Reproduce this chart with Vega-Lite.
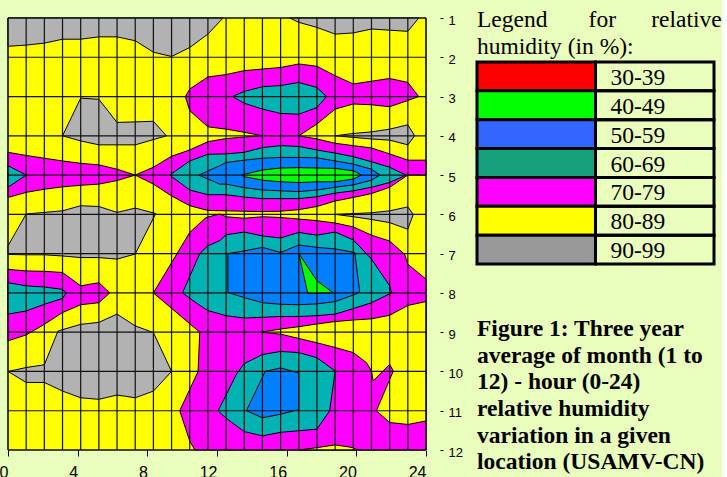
{
"$schema": "https://vega.github.io/schema/vega-lite/v6.json",
"background": "#E9FDBC",
"padding": {"left": -1, "top": 7, "right": 0, "bottom": -3},
"bounds": "flush",
"spacing": 51,
"config": {"view": {"stroke": null}, "font": "Liberation Sans"},
"resolve": {"scale": {"x": "independent", "y": "independent", "fill": "independent"}},
"datasets": {
"polys": [
{"p":"p00","z":"80-89","c":0,"m":1},{"p":"p00","z":"80-89","c":23,"m":1},{"p":"p00","z":"80-89","c":23,"m":12},{"p":"p00","z":"80-89","c":0,"m":12},
{"p":"p01","z":"90-99","c":0,"m":1},{"p":"p01","z":"90-99","c":11.83,"m":1},{"p":"p01","z":"90-99","c":11,"m":1.41},{"p":"p01","z":"90-99","c":10,"m":1.75},{"p":"p01","z":"90-99","c":9,"m":1.98},{"p":"p01","z":"90-99","c":8,"m":1.87},{"p":"p01","z":"90-99","c":7,"m":1.58},{"p":"p01","z":"90-99","c":6,"m":1.48},{"p":"p01","z":"90-99","c":5,"m":1.48},{"p":"p01","z":"90-99","c":4,"m":1.54},{"p":"p01","z":"90-99","c":3,"m":1.54},{"p":"p01","z":"90-99","c":2,"m":1.64},{"p":"p01","z":"90-99","c":1,"m":1.69},{"p":"p01","z":"90-99","c":0,"m":1.72},
{"p":"p02","z":"90-99","c":15.5,"m":1},{"p":"p02","z":"90-99","c":22.6,"m":1},{"p":"p02","z":"90-99","c":22,"m":1.34},{"p":"p02","z":"90-99","c":21,"m":1.31},{"p":"p02","z":"90-99","c":20,"m":1.28},{"p":"p02","z":"90-99","c":19,"m":1.38},{"p":"p02","z":"90-99","c":18,"m":1.41},{"p":"p02","z":"90-99","c":17,"m":1.24},{"p":"p02","z":"90-99","c":16,"m":1.11},
{"p":"p03","z":"90-99","c":4,"m":3.04},{"p":"p03","z":"90-99","c":5,"m":3.07},{"p":"p03","z":"90-99","c":6,"m":3.66},{"p":"p03","z":"90-99","c":8,"m":3.63},{"p":"p03","z":"90-99","c":8.72,"m":4},{"p":"p03","z":"90-99","c":7,"m":4.23},{"p":"p03","z":"90-99","c":6,"m":4.23},{"p":"p03","z":"90-99","c":5,"m":4.23},{"p":"p03","z":"90-99","c":4,"m":4.13},{"p":"p03","z":"90-99","c":3,"m":4},
{"p":"p04","z":"90-99","c":18,"m":4},{"p":"p04","z":"90-99","c":19,"m":3.94},{"p":"p04","z":"90-99","c":20,"m":3.9},{"p":"p04","z":"90-99","c":21,"m":3.83},{"p":"p04","z":"90-99","c":22,"m":3.72},{"p":"p04","z":"90-99","c":22.38,"m":4},{"p":"p04","z":"90-99","c":22,"m":4.23},{"p":"p04","z":"90-99","c":21,"m":4.11},{"p":"p04","z":"90-99","c":20,"m":4.08},{"p":"p04","z":"90-99","c":19,"m":4.04},
{"p":"p05","z":"90-99","c":0,"m":6.8},{"p":"p05","z":"90-99","c":1,"m":5.99},{"p":"p05","z":"90-99","c":2,"m":5.95},{"p":"p05","z":"90-99","c":3,"m":5.91},{"p":"p05","z":"90-99","c":4,"m":5.78},{"p":"p05","z":"90-99","c":5,"m":5.8},{"p":"p05","z":"90-99","c":6,"m":5.95},{"p":"p05","z":"90-99","c":7,"m":5.84},{"p":"p05","z":"90-99","c":8.13,"m":5.98},{"p":"p05","z":"90-99","c":7,"m":7.01},{"p":"p05","z":"90-99","c":6,"m":7.14},{"p":"p05","z":"90-99","c":5,"m":7.1},{"p":"p05","z":"90-99","c":4,"m":7.1},{"p":"p05","z":"90-99","c":3,"m":7.06},{"p":"p05","z":"90-99","c":2,"m":7.03},{"p":"p05","z":"90-99","c":1,"m":7.03},{"p":"p05","z":"90-99","c":0,"m":7.02},
{"p":"p06","z":"90-99","c":18,"m":6},{"p":"p06","z":"90-99","c":19,"m":5.98},{"p":"p06","z":"90-99","c":20,"m":5.96},{"p":"p06","z":"90-99","c":21,"m":5.91},{"p":"p06","z":"90-99","c":22,"m":5.81},{"p":"p06","z":"90-99","c":22.3,"m":6},{"p":"p06","z":"90-99","c":22,"m":6.38},{"p":"p06","z":"90-99","c":21,"m":6.21},{"p":"p06","z":"90-99","c":20,"m":6.13},{"p":"p06","z":"90-99","c":19,"m":6.06},
{"p":"p07","z":"90-99","c":0,"m":10},{"p":"p07","z":"90-99","c":1,"m":9.9},{"p":"p07","z":"90-99","c":2,"m":9.83},{"p":"p07","z":"90-99","c":2.75,"m":8.97},{"p":"p07","z":"90-99","c":4,"m":8.8},{"p":"p07","z":"90-99","c":5,"m":8.75},{"p":"p07","z":"90-99","c":6,"m":8.54},{"p":"p07","z":"90-99","c":7,"m":8.84},{"p":"p07","z":"90-99","c":8,"m":9.01},{"p":"p07","z":"90-99","c":9,"m":10},{"p":"p07","z":"90-99","c":8,"m":10.5},{"p":"p07","z":"90-99","c":7,"m":10.67},{"p":"p07","z":"90-99","c":6,"m":10.6},{"p":"p07","z":"90-99","c":5,"m":10.71},{"p":"p07","z":"90-99","c":4,"m":10.67},{"p":"p07","z":"90-99","c":3,"m":10.5},{"p":"p07","z":"90-99","c":2,"m":10.28},{"p":"p07","z":"90-99","c":1,"m":10.28},
{"p":"p08","z":"70-79","c":9.76,"m":3},{"p":"p08","z":"70-79","c":10,"m":2.81},{"p":"p08","z":"70-79","c":11,"m":2.5},{"p":"p08","z":"70-79","c":12,"m":2.44},{"p":"p08","z":"70-79","c":13,"m":2.34},{"p":"p08","z":"70-79","c":14,"m":2.3},{"p":"p08","z":"70-79","c":15,"m":2.26},{"p":"p08","z":"70-79","c":16,"m":2.17},{"p":"p08","z":"70-79","c":17,"m":2.23},{"p":"p08","z":"70-79","c":18,"m":2.47},{"p":"p08","z":"70-79","c":19,"m":2.68},{"p":"p08","z":"70-79","c":20,"m":2.61},{"p":"p08","z":"70-79","c":21,"m":2.54},{"p":"p08","z":"70-79","c":22,"m":2.64},{"p":"p08","z":"70-79","c":22.6,"m":3},{"p":"p08","z":"70-79","c":22,"m":3.1},{"p":"p08","z":"70-79","c":21,"m":3.26},{"p":"p08","z":"70-79","c":20,"m":3.21},{"p":"p08","z":"70-79","c":19,"m":3.19},{"p":"p08","z":"70-79","c":18,"m":3.32},{"p":"p08","z":"70-79","c":17,"m":3.7},{"p":"p08","z":"70-79","c":16,"m":4},{"p":"p08","z":"70-79","c":17,"m":4.08},{"p":"p08","z":"70-79","c":18,"m":4.19},{"p":"p08","z":"70-79","c":19,"m":4.25},{"p":"p08","z":"70-79","c":20,"m":4.31},{"p":"p08","z":"70-79","c":21,"m":4.46},{"p":"p08","z":"70-79","c":22,"m":4.62},{"p":"p08","z":"70-79","c":23,"m":4.62},{"p":"p08","z":"70-79","c":23,"m":5},{"p":"p08","z":"70-79","c":22,"m":5},{"p":"p08","z":"70-79","c":21,"m":5.31},{"p":"p08","z":"70-79","c":20,"m":5.47},{"p":"p08","z":"70-79","c":19,"m":5.57},{"p":"p08","z":"70-79","c":18,"m":5.66},{"p":"p08","z":"70-79","c":17,"m":5.8},{"p":"p08","z":"70-79","c":16,"m":5.88},{"p":"p08","z":"70-79","c":15,"m":5.92},{"p":"p08","z":"70-79","c":14,"m":5.93},{"p":"p08","z":"70-79","c":13,"m":5.92},{"p":"p08","z":"70-79","c":12,"m":5.91},{"p":"p08","z":"70-79","c":11,"m":5.9},{"p":"p08","z":"70-79","c":10,"m":5.78},{"p":"p08","z":"70-79","c":9,"m":5.53},{"p":"p08","z":"70-79","c":8,"m":5.23},{"p":"p08","z":"70-79","c":7,"m":5},{"p":"p08","z":"70-79","c":8,"m":4.8},{"p":"p08","z":"70-79","c":9,"m":4.52},{"p":"p08","z":"70-79","c":10,"m":4.36},{"p":"p08","z":"70-79","c":11,"m":4.15},{"p":"p08","z":"70-79","c":12,"m":4.07},{"p":"p08","z":"70-79","c":13,"m":4.03},{"p":"p08","z":"70-79","c":14,"m":4},{"p":"p08","z":"70-79","c":13,"m":3.91},{"p":"p08","z":"70-79","c":12,"m":3.83},{"p":"p08","z":"70-79","c":11,"m":3.77},{"p":"p08","z":"70-79","c":10,"m":3.36},
{"p":"p09","z":"60-69","c":12.35,"m":3},{"p":"p09","z":"60-69","c":13,"m":2.87},{"p":"p09","z":"60-69","c":14,"m":2.75},{"p":"p09","z":"60-69","c":15,"m":2.72},{"p":"p09","z":"60-69","c":16,"m":2.64},{"p":"p09","z":"60-69","c":17,"m":2.77},{"p":"p09","z":"60-69","c":17.52,"m":3},{"p":"p09","z":"60-69","c":17,"m":3.28},{"p":"p09","z":"60-69","c":16,"m":3.45},{"p":"p09","z":"60-69","c":15,"m":3.43},{"p":"p09","z":"60-69","c":14,"m":3.32},{"p":"p09","z":"60-69","c":13,"m":3.17},
{"p":"p10","z":"60-69","c":8.9,"m":5},{"p":"p10","z":"60-69","c":10,"m":4.64},{"p":"p10","z":"60-69","c":11,"m":4.47},{"p":"p10","z":"60-69","c":12,"m":4.46},{"p":"p10","z":"60-69","c":13,"m":4.42},{"p":"p10","z":"60-69","c":14,"m":4.3},{"p":"p10","z":"60-69","c":15,"m":4.25},{"p":"p10","z":"60-69","c":16,"m":4.27},{"p":"p10","z":"60-69","c":17,"m":4.36},{"p":"p10","z":"60-69","c":18,"m":4.44},{"p":"p10","z":"60-69","c":19,"m":4.53},{"p":"p10","z":"60-69","c":20,"m":4.66},{"p":"p10","z":"60-69","c":21,"m":4.8},{"p":"p10","z":"60-69","c":21.9,"m":5},{"p":"p10","z":"60-69","c":21,"m":5.19},{"p":"p10","z":"60-69","c":20,"m":5.31},{"p":"p10","z":"60-69","c":19,"m":5.4},{"p":"p10","z":"60-69","c":18,"m":5.46},{"p":"p10","z":"60-69","c":17,"m":5.55},{"p":"p10","z":"60-69","c":16,"m":5.6},{"p":"p10","z":"60-69","c":15,"m":5.6},{"p":"p10","z":"60-69","c":14,"m":5.6},{"p":"p10","z":"60-69","c":13,"m":5.56},{"p":"p10","z":"60-69","c":12,"m":5.5},{"p":"p10","z":"60-69","c":11,"m":5.5},{"p":"p10","z":"60-69","c":10,"m":5.38},
{"p":"p11","z":"50-59","c":10.5,"m":5},{"p":"p11","z":"50-59","c":11.65,"m":4.76},{"p":"p11","z":"50-59","c":12,"m":4.68},{"p":"p11","z":"50-59","c":13,"m":4.62},{"p":"p11","z":"50-59","c":14,"m":4.57},{"p":"p11","z":"50-59","c":15,"m":4.55},{"p":"p11","z":"50-59","c":16,"m":4.55},{"p":"p11","z":"50-59","c":17,"m":4.56},{"p":"p11","z":"50-59","c":18,"m":4.64},{"p":"p11","z":"50-59","c":19,"m":4.72},{"p":"p11","z":"50-59","c":20,"m":4.85},{"p":"p11","z":"50-59","c":20.46,"m":5},{"p":"p11","z":"50-59","c":20,"m":5.13},{"p":"p11","z":"50-59","c":19,"m":5.25},{"p":"p11","z":"50-59","c":18,"m":5.31},{"p":"p11","z":"50-59","c":17,"m":5.38},{"p":"p11","z":"50-59","c":16,"m":5.42},{"p":"p11","z":"50-59","c":15,"m":5.4},{"p":"p11","z":"50-59","c":14,"m":5.38},{"p":"p11","z":"50-59","c":13,"m":5.32},{"p":"p11","z":"50-59","c":12,"m":5.23},{"p":"p11","z":"50-59","c":11.65,"m":5.23},
{"p":"p12","z":"40-49","c":12.85,"m":5},{"p":"p12","z":"40-49","c":14,"m":4.87},{"p":"p12","z":"40-49","c":15,"m":4.82},{"p":"p12","z":"40-49","c":16,"m":4.81},{"p":"p12","z":"40-49","c":17,"m":4.82},{"p":"p12","z":"40-49","c":18,"m":4.83},{"p":"p12","z":"40-49","c":19,"m":4.89},{"p":"p12","z":"40-49","c":19.45,"m":5},{"p":"p12","z":"40-49","c":19,"m":5.1},{"p":"p12","z":"40-49","c":18,"m":5.17},{"p":"p12","z":"40-49","c":17,"m":5.17},{"p":"p12","z":"40-49","c":16,"m":5.19},{"p":"p12","z":"40-49","c":15,"m":5.17},{"p":"p12","z":"40-49","c":14,"m":5.13},{"p":"p12","z":"40-49","c":13,"m":5.04},
{"p":"p13","z":"70-79","c":0,"m":4.42},{"p":"p13","z":"70-79","c":1,"m":4.5},{"p":"p13","z":"70-79","c":2,"m":4.57},{"p":"p13","z":"70-79","c":3,"m":4.64},{"p":"p13","z":"70-79","c":4,"m":4.7},{"p":"p13","z":"70-79","c":5,"m":4.74},{"p":"p13","z":"70-79","c":6,"m":4.85},{"p":"p13","z":"70-79","c":7,"m":5},{"p":"p13","z":"70-79","c":6,"m":5.14},{"p":"p13","z":"70-79","c":5,"m":5.23},{"p":"p13","z":"70-79","c":4,"m":5.26},{"p":"p13","z":"70-79","c":3,"m":5.3},{"p":"p13","z":"70-79","c":2,"m":5.36},{"p":"p13","z":"70-79","c":1,"m":5.44},{"p":"p13","z":"70-79","c":0,"m":5.57},
{"p":"p14","z":"60-69","c":0,"m":4.76},{"p":"p14","z":"60-69","c":1,"m":5},{"p":"p14","z":"60-69","c":0,"m":5.31},
{"p":"p15","z":"70-79","c":10.28,"m":12},{"p":"p15","z":"70-79","c":10,"m":11.77},{"p":"p15","z":"70-79","c":9.45,"m":11},{"p":"p15","z":"70-79","c":10.46,"m":10},{"p":"p15","z":"70-79","c":10.55,"m":9},{"p":"p15","z":"70-79","c":8,"m":8},{"p":"p15","z":"70-79","c":10,"m":6.46},{"p":"p15","z":"70-79","c":10.9,"m":6.08},{"p":"p15","z":"70-79","c":11.65,"m":5.99},{"p":"p15","z":"70-79","c":12,"m":6.06},{"p":"p15","z":"70-79","c":13,"m":6.1},{"p":"p15","z":"70-79","c":14,"m":6.06},{"p":"p15","z":"70-79","c":15,"m":6.08},{"p":"p15","z":"70-79","c":16,"m":6.12},{"p":"p15","z":"70-79","c":17,"m":6.16},{"p":"p15","z":"70-79","c":18,"m":6.22},{"p":"p15","z":"70-79","c":19,"m":6.32},{"p":"p15","z":"70-79","c":20,"m":6.53},{"p":"p15","z":"70-79","c":21,"m":6.68},{"p":"p15","z":"70-79","c":21.83,"m":7.02},{"p":"p15","z":"70-79","c":22,"m":7.27},{"p":"p15","z":"70-79","c":23,"m":7.65},{"p":"p15","z":"70-79","c":23,"m":12},
{"p":"p16","z":"60-69","c":9.6,"m":8},{"p":"p16","z":"60-69","c":10.55,"m":7},{"p":"p16","z":"60-69","c":11,"m":6.8},{"p":"p16","z":"60-69","c":11.65,"m":6.67},{"p":"p16","z":"60-69","c":12,"m":6.52},{"p":"p16","z":"60-69","c":13,"m":6.45},{"p":"p16","z":"60-69","c":14,"m":6.55},{"p":"p16","z":"60-69","c":15,"m":6.6},{"p":"p16","z":"60-69","c":16,"m":6.46},{"p":"p16","z":"60-69","c":17,"m":6.53},{"p":"p16","z":"60-69","c":18,"m":6.45},{"p":"p16","z":"60-69","c":19,"m":6.65},{"p":"p16","z":"60-69","c":20,"m":7.14},{"p":"p16","z":"60-69","c":21,"m":7.82},{"p":"p16","z":"60-69","c":21.1,"m":8},{"p":"p16","z":"60-69","c":20,"m":8.25},{"p":"p16","z":"60-69","c":19,"m":8.4},{"p":"p16","z":"60-69","c":18,"m":8.54},{"p":"p16","z":"60-69","c":17,"m":8.58},{"p":"p16","z":"60-69","c":16,"m":8.6},{"p":"p16","z":"60-69","c":15,"m":8.6},{"p":"p16","z":"60-69","c":14,"m":8.62},{"p":"p16","z":"60-69","c":13,"m":8.64},{"p":"p16","z":"60-69","c":12,"m":8.58},{"p":"p16","z":"60-69","c":11,"m":8.45},{"p":"p16","z":"60-69","c":10.5,"m":8.3},
{"p":"p17","z":"50-59","c":12.1,"m":7},{"p":"p17","z":"50-59","c":13,"m":6.93},{"p":"p17","z":"50-59","c":14,"m":6.84},{"p":"p17","z":"50-59","c":15,"m":6.97},{"p":"p17","z":"50-59","c":16,"m":6.78},{"p":"p17","z":"50-59","c":17,"m":6.84},{"p":"p17","z":"50-59","c":18,"m":6.88},{"p":"p17","z":"50-59","c":19.08,"m":6.97},{"p":"p17","z":"50-59","c":19.35,"m":7.96},{"p":"p17","z":"50-59","c":19.2,"m":8.02},{"p":"p17","z":"50-59","c":18,"m":8.22},{"p":"p17","z":"50-59","c":17,"m":8.28},{"p":"p17","z":"50-59","c":16,"m":8.3},{"p":"p17","z":"50-59","c":15,"m":8.29},{"p":"p17","z":"50-59","c":14,"m":8.25},{"p":"p17","z":"50-59","c":13,"m":8.12},{"p":"p17","z":"50-59","c":12.1,"m":7.99},
{"p":"p18","z":"40-49","c":16,"m":7},{"p":"p18","z":"40-49","c":17,"m":7.69},{"p":"p18","z":"40-49","c":17.9,"m":8},{"p":"p18","z":"40-49","c":16.5,"m":8.02},
{"p":"p19","z":"60-69","c":11.56,"m":11},{"p":"p19","z":"60-69","c":12,"m":10.6},{"p":"p19","z":"60-69","c":12.57,"m":10.07},{"p":"p19","z":"60-69","c":13,"m":9.8},{"p":"p19","z":"60-69","c":14,"m":9.57},{"p":"p19","z":"60-69","c":15,"m":9.49},{"p":"p19","z":"60-69","c":16,"m":9.52},{"p":"p19","z":"60-69","c":17,"m":9.65},{"p":"p19","z":"60-69","c":18,"m":9.99},{"p":"p19","z":"60-69","c":17.7,"m":11},{"p":"p19","z":"60-69","c":17,"m":11.47},{"p":"p19","z":"60-69","c":16,"m":11.51},{"p":"p19","z":"60-69","c":15,"m":11.55},{"p":"p19","z":"60-69","c":14,"m":11.64},{"p":"p19","z":"60-69","c":13,"m":11.53},{"p":"p19","z":"60-69","c":12,"m":11.19},
{"p":"p20","z":"50-59","c":13.12,"m":11},{"p":"p20","z":"50-59","c":14.15,"m":10},{"p":"p20","z":"50-59","c":15,"m":9.91},{"p":"p20","z":"50-59","c":16,"m":10.04},{"p":"p20","z":"50-59","c":16,"m":10.97},{"p":"p20","z":"50-59","c":15,"m":11.09},{"p":"p20","z":"50-59","c":14,"m":11.18},
{"p":"p21","z":"80-89","c":13.9,"m":9},{"p":"p21","z":"80-89","c":15,"m":8.92},{"p":"p21","z":"80-89","c":16,"m":8.86},{"p":"p21","z":"80-89","c":17,"m":8.79},{"p":"p21","z":"80-89","c":18,"m":8.73},{"p":"p21","z":"80-89","c":19,"m":8.69},{"p":"p21","z":"80-89","c":20,"m":8.66},{"p":"p21","z":"80-89","c":21,"m":8.57},{"p":"p21","z":"80-89","c":22,"m":8.32},{"p":"p21","z":"80-89","c":23,"m":8.22},{"p":"p21","z":"80-89","c":23,"m":11.26},{"p":"p21","z":"80-89","c":22,"m":11.35},{"p":"p21","z":"80-89","c":21,"m":11.3},{"p":"p21","z":"80-89","c":20.27,"m":11},{"p":"p21","z":"80-89","c":21.2,"m":9.99},{"p":"p21","z":"80-89","c":21,"m":9.82},{"p":"p21","z":"80-89","c":20.1,"m":10.24},{"p":"p21","z":"80-89","c":20,"m":9.99},{"p":"p21","z":"80-89","c":19.73,"m":9.78},{"p":"p21","z":"80-89","c":19,"m":9.52},{"p":"p21","z":"80-89","c":18,"m":9.39},{"p":"p21","z":"80-89","c":17,"m":9.27},{"p":"p21","z":"80-89","c":16,"m":9.16},{"p":"p21","z":"80-89","c":15,"m":9.05},
{"p":"p22","z":"80-89","c":16,"m":12},{"p":"p22","z":"80-89","c":17,"m":11.94},{"p":"p22","z":"80-89","c":18,"m":11.87},{"p":"p22","z":"80-89","c":19,"m":11.94},{"p":"p22","z":"80-89","c":19.2,"m":12},
{"p":"p23","z":"70-79","c":0,"m":7.4},{"p":"p23","z":"70-79","c":1,"m":7.44},{"p":"p23","z":"70-79","c":2,"m":7.45},{"p":"p23","z":"70-79","c":3,"m":7.48},{"p":"p23","z":"70-79","c":4,"m":7.82},{"p":"p23","z":"70-79","c":5,"m":7.74},{"p":"p23","z":"70-79","c":5.6,"m":8},{"p":"p23","z":"70-79","c":5,"m":8.25},{"p":"p23","z":"70-79","c":4,"m":8.3},{"p":"p23","z":"70-79","c":3,"m":8.5},{"p":"p23","z":"70-79","c":2,"m":8.8},{"p":"p23","z":"70-79","c":1,"m":9.07},{"p":"p23","z":"70-79","c":0,"m":9.22},
{"p":"p24","z":"60-69","c":0,"m":7.74},{"p":"p24","z":"60-69","c":1,"m":7.82},{"p":"p24","z":"60-69","c":2,"m":7.85},{"p":"p24","z":"60-69","c":3,"m":7.91},{"p":"p24","z":"60-69","c":3.2,"m":8},{"p":"p24","z":"60-69","c":3,"m":8.14},{"p":"p24","z":"60-69","c":2,"m":8.29},{"p":"p24","z":"60-69","c":1,"m":8.46},{"p":"p24","z":"60-69","c":0,"m":8.54}
],
"gridc": [{"c":0},{"c":1},{"c":2},{"c":3},{"c":4},{"c":5},{"c":6},{"c":7},{"c":8},{"c":9},{"c":10},{"c":11},{"c":12},{"c":13},{"c":14},{"c":15},{"c":16},{"c":17},{"c":18},{"c":19},{"c":20},{"c":21},{"c":22},{"c":23}],
"gridm": [{"m":1},{"m":2},{"m":3},{"m":4},{"m":5},{"m":6},{"m":7},{"m":8},{"m":9},{"m":10},{"m":11},{"m":12}],
"hours": [{"h":0},{"h":24}],
"legend": [{"r":"30-39"},{"r":"40-49"},{"r":"50-59"},{"r":"60-69"},{"r":"70-79"},{"r":"80-89"},{"r":"90-99"}],
"title": [{"line":1,"text":"Legend\u00a0\u00a0\u00a0\u00a0\u00a0\u00a0\u00a0for\u00a0\u00a0\u00a0\u00a0\u00a0\u00a0relative"},{"line":2,"text":"humidity (in %):"}],
"caption": [{"line":1,"text":"Figure 1: Three year"},{"line":2,"text":"average of month (1 to"},{"line":3,"text":"12) - hour (0-24)"},{"line":4,"text":"relative humidity"},{"line":5,"text":"variation in a given"},{"line":6,"text":"location (USAMV-CN)"}]
},
"hconcat": [
{
"width": 418,
"height": 432,
"layer": [
{"layer": [
{"data": {"name": "polys"},
 "mark": {"type": "line", "interpolate": "linear-closed", "stroke": "#000", "strokeWidth": 1},
 "encoding": {
  "x": {"field": "c", "type": "quantitative", "scale": {"domain": [0, 23], "nice": false, "zero": false}, "axis": null},
  "y": {"field": "m", "type": "quantitative", "scale": {"domain": [1, 12], "nice": false, "zero": false, "reverse": true},
        "axis": {"orient": "right", "offset": 14, "domain": false, "grid": false, "tickSize": 3, "tickColor": "#000", "values": [1,2,3,4,5,6,7,8,9,10,11,12], "format": "d", "labelFont": "Liberation Sans", "labelFontSize": 13, "labelColor": "#000", "labelPadding": 5, "labelAlign": "left", "labelBaseline": "middle", "labelOffset": 2, "labelFlush": false, "labelOverlap": false, "title": null}},
  "detail": {"field": "p", "type": "nominal"},
  "order": {"value": null},
  "fill": {"field": "z", "type": "nominal", "scale": {"domain": ["80-89","90-99","70-79","60-69","50-59","40-49"], "range": ["#FFFF00","#B2B2B2","#FF00FF","#00B2B2","#0080FF","#00FF00"]}, "legend": null}
 }},
{"data": {"name": "gridc"},
 "mark": {"type": "rule", "stroke": "#111", "strokeWidth": 1.2},
 "encoding": {"x": {"field": "c", "type": "quantitative", "scale": {"domain": [0, 23], "nice": false, "zero": false}, "axis": null}}},
{"data": {"name": "gridm"},
 "mark": {"type": "rule", "stroke": "#111", "strokeWidth": 1.2},
 "encoding": {"y": {"field": "m", "type": "quantitative", "scale": {"domain": [1, 12], "nice": false, "zero": false, "reverse": true},
        "axis": {"orient": "right", "offset": 14, "domain": false, "grid": false, "tickSize": 3, "tickColor": "#000", "values": [1,2,3,4,5,6,7,8,9,10,11,12], "format": "d", "labelFont": "Liberation Sans", "labelFontSize": 13, "labelColor": "#000", "labelPadding": 5, "labelAlign": "left", "labelBaseline": "middle", "labelOffset": 2, "labelFlush": false, "labelOverlap": false, "title": null}}}}
]},
{"data": {"name": "hours"},
 "mark": {"type": "point", "opacity": 0},
 "encoding": {"x": {"field": "h", "type": "quantitative", "scale": {"domain": [0, 24], "nice": false, "zero": false},
   "axis": {"orient": "bottom", "values": [0,4,8,12,16,20,24], "domain": false, "grid": false, "tickSize": 6, "tickColor": "#000", "labelFont": "Liberation Sans", "labelFontSize": 16, "labelColor": "#000", "labelAlign": "right", "labelBaseline": "top", "labelPadding": 8, "labelFlush": false, "labelOverlap": false, "title": null}}}}
],
"resolve": {"scale": {"x": "independent"}, "axis": {"x": "independent"}}
},
{
"vconcat": [
{
"width": 237,
"height": 43.7,
"data": {"name": "title"},
"mark": {"type": "text", "align": "left", "baseline": "alphabetic", "font": "Liberation Serif", "fontSize": 23.5, "color": "#000"},
"encoding": {
 "x": {"datum": 0, "type": "quantitative", "scale": {"domain": [0, 1], "nice": false, "zero": false}, "axis": null},
 "y": {"field": "line", "type": "quantitative", "scale": {"domain": [0.6667, 2.2852], "nice": false, "zero": false, "reverse": true}, "axis": null},
 "text": {"field": "text"}
}
},
{
"width": 237,
"height": 202,
"layer": [
{"data": {"name": "legend"},
 "mark": {"type": "rect", "stroke": "#000", "strokeWidth": 3},
 "encoding": {
  "x": {"datum": 0, "type": "quantitative", "scale": {"domain": [0, 1], "nice": false, "zero": false}, "axis": null},
  "x2": {"datum": 0.5},
  "y": {"field": "r", "type": "nominal", "sort": null, "scale": {"type": "band", "domain": ["30-39","40-49","50-59","60-69","70-79","80-89","90-99"], "paddingInner": 0, "paddingOuter": 0}, "axis": null},
  "fill": {"field": "r", "type": "nominal", "scale": {"domain": ["30-39","40-49","50-59","60-69","70-79","80-89","90-99"], "range": ["#FF0000","#00FF00","#3366FF","#169F7B","#FF00FF","#FFFF00","#999999"]}, "legend": null}
 }},
{"data": {"name": "legend"},
 "mark": {"type": "rect", "stroke": "#000", "strokeWidth": 3, "fill": "transparent"},
 "encoding": {
  "x": {"datum": 0.5, "type": "quantitative", "scale": {"domain": [0, 1], "nice": false, "zero": false}, "axis": null},
  "x2": {"datum": 1},
  "y": {"field": "r", "type": "nominal", "sort": null, "scale": {"type": "band", "domain": ["30-39","40-49","50-59","60-69","70-79","80-89","90-99"], "paddingInner": 0, "paddingOuter": 0}, "axis": null}
 }},
{"data": {"name": "legend"},
 "mark": {"type": "text", "align": "left", "baseline": "alphabetic", "dx": 15, "dy": 8.5, "font": "Liberation Serif", "fontSize": 23.5, "color": "#000"},
 "encoding": {
  "x": {"datum": 0.5, "type": "quantitative", "scale": {"domain": [0, 1], "nice": false, "zero": false}, "axis": null},
  "y": {"field": "r", "type": "nominal", "sort": null, "scale": {"type": "band", "domain": ["30-39","40-49","50-59","60-69","70-79","80-89","90-99"], "paddingInner": 0, "paddingOuter": 0}, "axis": null},
  "text": {"field": "r"}
 }}
]
},
{
"width": 237,
"height": 186.3,
"data": {"name": "caption"},
"mark": {"type": "text", "align": "left", "baseline": "alphabetic", "font": "Liberation Serif", "fontSize": 23.5, "fontWeight": "bold", "color": "#000"},
"encoding": {
 "x": {"datum": 0, "type": "quantitative", "scale": {"domain": [0, 1], "nice": false, "zero": false}, "axis": null},
 "y": {"field": "line", "type": "quantitative", "scale": {"domain": [-1.718, 5.286], "nice": false, "zero": false, "reverse": true}, "axis": null},
 "text": {"field": "text"}
}
}
],
"spacing": 0,
"bounds": "flush",
"resolve": {"scale": {"y": "independent"}}
}
]
}
